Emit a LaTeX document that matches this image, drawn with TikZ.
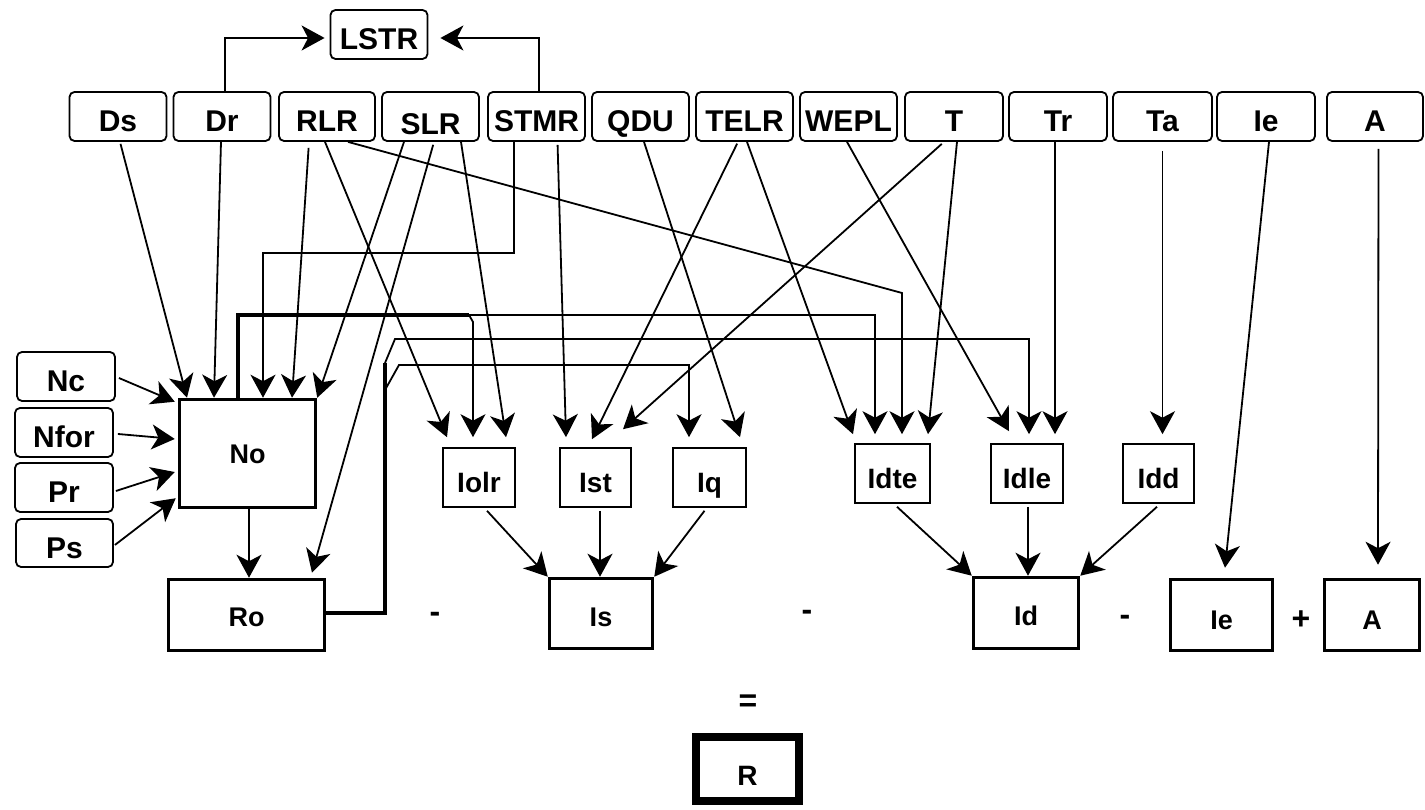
\documentclass[tikz,border=0pt]{standalone}
\usepackage{fontspec}
\setmainfont{Liberation Sans}
\usetikzlibrary{arrows.meta,calc}
\begin{document}
\begin{tikzpicture}[x=1pt,y=1pt,
 tbox/.style={draw, line width=1.8pt, rounded corners=5pt, minimum width=97pt, minimum height=49pt, inner sep=0pt, text height=31pt, text depth=0pt, font=\fontsize{30}{30}\selectfont\bfseries},
 sbox/.style={draw, line width=1.6pt, minimum height=59pt, inner sep=0pt, text height=30pt, text depth=0pt, font=\fontsize{28}{30}\selectfont\bfseries},
 bbox/.style={draw, line width=3.5pt, inner sep=0pt, text height=26pt, text depth=0pt, font=\fontsize{27}{30}\selectfont\bfseries},
 conn/.style={line width=1.8pt, -{Stealth[length=23pt,width=25pt,inset=6.5pt]}},
 bus/.style={line width=4.5pt},
 sym/.style={font=\fontsize{32}{32}\selectfont\bfseries, inner sep=0pt}
]
\useasboundingbox (0,0) rectangle (1425,810);
\fill[white] (0,0) rectangle (1425,810);

% top row
\node[tbox] (LSTR) at (379,775.5) {LSTR};
\node[tbox] (Ds) at (118,693.5) {Ds};
\node[tbox] (Dr) at (222,693.5) {Dr};
\node[tbox, minimum width=96pt] (RLR) at (327,693.5) {RLR};
\node[tbox, text height=37pt] (SLR) at (430.5,693.5) {SLR};
\node[tbox] (STMR) at (536.5,693.5) {STMR};
\node[tbox] (QDU) at (640.5,693.5) {QDU};
\node[tbox] (TELR) at (744.5,693.5) {TELR};
\node[tbox] (WEPL) at (848.5,693.5) {WEPL};
\node[tbox, minimum width=98pt] (T) at (954,693.5) {T};
\node[tbox, minimum width=98pt] (Tr) at (1058,693.5) {Tr};
\node[tbox, minimum width=99pt] (Ta) at (1162.5,693.5) {Ta};
\node[tbox, minimum width=98pt] (Ie) at (1266,693.5) {Ie};
\node[tbox, minimum width=96pt] (A) at (1375,693.5) {A};

% left column
\node[tbox, minimum width=98pt] (Nc) at (66,433.5) {Nc};
\node[tbox, minimum width=98pt] (Nfor) at (64,377.5) {Nfor};
\node[tbox, minimum width=98pt] (Pr) at (64,322.5) {Pr};
\node[tbox, minimum width=97pt, minimum height=48pt] (Ps) at (64.5,267) {Ps};

% big boxes
\node[bbox, minimum width=136pt, minimum height=108pt, text height=20pt] (No) at (247.5,356.5) {No};
\node[bbox, minimum width=156pt, minimum height=71pt, text height=24pt] (Ro) at (246.5,195) {Ro};
\node[bbox, minimum width=103pt, minimum height=70pt] (Is) at (601,196.5) {Is};
\node[bbox, minimum width=105pt, minimum height=71pt] (Id) at (1026,197) {Id};
\node[bbox, minimum width=102pt, minimum height=71pt, text height=30pt] (Iebox) at (1221.5,195) {Ie};
\node[bbox, minimum width=95pt, minimum height=71pt, text height=30pt] (Abox) at (1372,195) {A};
\node[draw, line width=8pt, minimum width=103pt, minimum height=64pt, inner sep=0pt, text height=34pt, text depth=0pt, font=\fontsize{28}{30}\selectfont\bfseries] (R) at (747.5,41) {R};

% small boxes
\node[sbox, minimum width=72pt] (Iolr) at (479,332.5) {Iolr};
\node[sbox, minimum width=71pt] (Ist) at (595.5,332.5) {Ist};
\node[sbox, minimum width=73pt] (Iq) at (709.5,332.5) {Iq};
\node[sbox, minimum width=75pt] (Idte) at (892.5,336.5) {Idte};
\node[sbox, minimum width=72pt] (Idle) at (1027,336.5) {Idle};
\node[sbox, minimum width=71pt] (Idd) at (1158.5,336.5) {Idd};

% operators
\node[sym] (m1) at (435,193) {-};
\node[sym] (m2) at (807,195) {-};
\node[sym] (m3) at (1125,190) {-};
\node[sym] (p1) at (1301,190) {+};
\node[sym] (eq) at (748,107) {=};

% to LSTR
\draw[conn, shorten >=5pt] ([xshift=3pt]Dr.north) |- ([yshift=-3.5pt]LSTR.west);
\draw[conn, shorten >=12pt] ([xshift=2.5pt]STMR.north) |- ([yshift=-3.5pt]LSTR.east);

% to No
\draw[conn, shorten <=2pt] ([xshift=2pt]Ds.south) -- ([xshift=-60.5pt]No.north);
\draw[conn] ([xshift=-1pt]Dr.south) -- ([xshift=-33.5pt]No.north);
\draw[conn, shorten <=6pt] ([xshift=-18pt]RLR.south) -- ([xshift=44.5pt]No.north);
\draw[conn] ([xshift=-26.5pt]SLR.south) -- (No.north east);
\coordinate (stmrbend) at (263,557);
\draw[conn] ([xshift=-22.5pt]STMR.south) |- (stmrbend) -- ([xshift=15.5pt]No.north);

\draw[conn] ([xshift=3pt,yshift=-1.5pt]Nc.east) -- ([xshift=-3pt,yshift=-4pt]No.north west);
\draw[conn] ([xshift=4pt,yshift=-1.5pt]Nfor.east) -- ([xshift=-3pt,yshift=14.5pt]No.west);
\draw[conn] ([xshift=2pt,yshift=-3.5pt]Pr.east) -- ([xshift=-3pt,yshift=-18.5pt]No.west);
\draw[conn] ([xshift=1pt,yshift=-2pt]Ps.east) -- ([xshift=-2pt,yshift=11pt]No.south west);

% RLR, SLR, STMR ...
\draw[conn] ([xshift=-2pt]RLR.south) -- ([xshift=-32pt,yshift=10pt]Iolr.north);
\coordinate (rlrbend) at (902,517);
\draw[conn] ([xshift=21pt]RLR.south) -- (rlrbend) -- ([xshift=9.5pt,yshift=9pt]Idte.north);
\draw[conn, shorten <=3pt] ([xshift=3.5pt]SLR.south) -- ([xshift=65.5pt,yshift=5pt]Ro.north);
\draw[conn] ([xshift=30.5pt]SLR.south) -- ([xshift=27pt,yshift=10pt]Iolr.north);
\draw[conn, shorten <=3pt] ([xshift=21pt]STMR.south) -- ([xshift=-29.5pt,yshift=10pt]Ist.north);
\draw[conn] ([xshift=3.5pt]QDU.south) -- ([xshift=30.5pt,yshift=10pt]Iq.north);
\draw[conn, shorten <=2pt] ([xshift=-6.5pt]TELR.south) -- ([xshift=-3.5pt,yshift=8pt]Ist.north);
\draw[conn] ([xshift=2.5pt]TELR.south) -- ([xshift=-39.5pt,yshift=9pt]Idte.north);
\draw[conn] ([xshift=-1.5pt]WEPL.south) -- ([xshift=-18pt,yshift=12pt]Idle.north);
\draw[conn, shorten <=3pt] ([xshift=-10pt]T.south) -- ([xshift=27.5pt,yshift=18pt]Ist.north);
\draw[conn] ([xshift=3pt]T.south) -- ([xshift=35.5pt,yshift=9pt]Idte.north);
\draw[conn] ([xshift=-3pt]Tr.south) -- ([xshift=28pt,yshift=9pt]Idle.north);
\draw[conn, shorten <=9pt] (Ta.south) -- ([xshift=4pt,yshift=9pt]Idd.north);
\draw[conn] ([xshift=3pt]Ie.south) -- ([xshift=3.5pt,yshift=10pt]Iebox.north);
\draw[conn, shorten <=7pt] ([xshift=3.5pt]A.south) -- ([xshift=6pt,yshift=13pt]Abox.north);

% No -> Ro
\draw[conn] ([xshift=1.5pt]No.south) -- ([xshift=2.5pt]Ro.north);

% to Is
\draw[conn] ([xshift=8pt,yshift=-3pt]Iolr.south) -- (Is.north west);
\draw[conn] ([xshift=4.5pt,yshift=-3pt]Ist.south) -- ([xshift=-1pt]Is.north);
\draw[conn] ([xshift=-5pt,yshift=-3pt]Iq.south) -- (Is.north east);

% to Id
\draw[conn] ([xshift=4.5pt,yshift=-3pt]Idte.south) -- (Id.north west);
\draw[conn] ([xshift=1pt,yshift=-3pt]Idle.south) -- ([xshift=2pt]Id.north);
\draw[conn] ([xshift=-1.5pt,yshift=-3pt]Idd.south) -- (Id.north east);

% No bus
\coordinate (nobus) at (469,495);
\draw[bus] ([xshift=-9.5pt]No.north) |- (nobus);
\draw[conn] (nobus) -- (473,488) -- ([xshift=-6pt,yshift=10pt]Iolr.north);
\draw[conn] (nobus) -| ([xshift=-17.5pt,yshift=9pt]Idte.north);

% Ro bus
\coordinate (robus) at (385,447);
\draw[bus] ([yshift=2pt]Ro.east) -| (robus);
\draw[conn] (robus) -- (395,471) -| ([xshift=2pt,yshift=9pt]Idle.north);
\draw[conn] (385,420) -- (399,445) -| ([xshift=-20.5pt,yshift=10pt]Iq.north);
\end{tikzpicture}
\end{document}
